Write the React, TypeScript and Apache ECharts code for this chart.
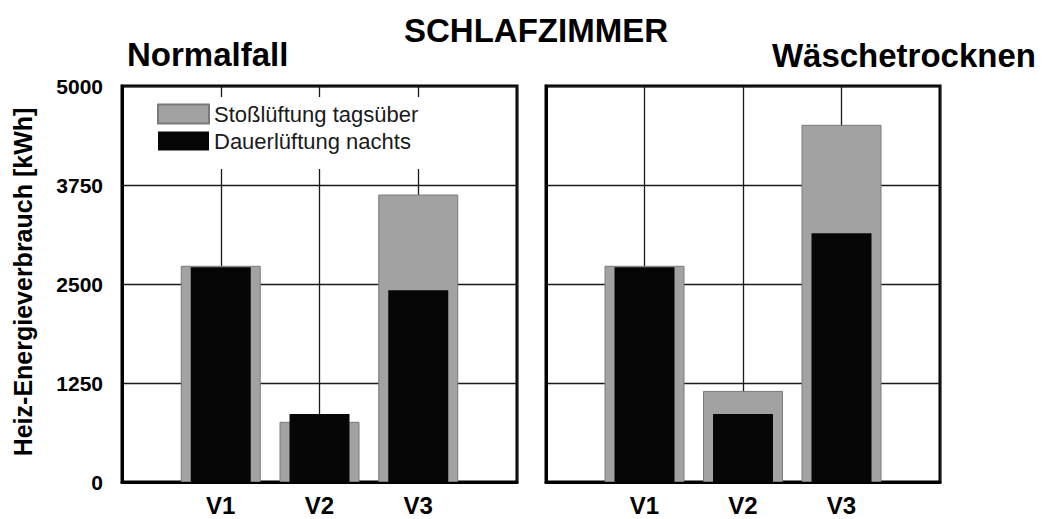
import React, { useEffect, useRef } from "react";
import * as echarts from "echarts";

const categories = ["V1", "V2", "V3"];
const seriesNames = ["Stoßlüftung tagsüber", "Dauerlüftung nachts"];
const normalStoss = [2730, 760, 3630];
const normalDauer = [2710, 860, 2420];
const waescheStoss = [2730, 1150, 4510];
const waescheDauer = [2710, 860, 3140];
const yTicks = [0, 1250, 2500, 3750, 5000];
const mainTitle = "SCHLAFZIMMER";
const panelTitles = ["Normalfall", "Wäschetrocknen"];
const yName = "Heiz-Energieverbrauch [kWh]";

const FONT = "'Liberation Sans', Arial, Helvetica, sans-serif";
const GRAY = "#a2a2a2";
const GRAY_BORDER = "#7a7a7a";
const BLACK = "#060606";
const LINE = "#1a1a1a";

const pad = (arr: number[]) => [null, ...arr, null];
const xCats = ["", ...categories, ""];

export default function App() {
  const ref = useRef<HTMLDivElement>(null);
  useEffect(() => {
    if (!ref.current) return;
    const chart = echarts.init(ref.current, null, { renderer: "svg" });
    const grids = [
      { left: 122, top: 86, width: 395, height: 396 },
      { left: 546, top: 86, width: 394, height: 396 },
    ];
    const mkX = (gridIndex: number, show: boolean) => ({
      type: "category",
      gridIndex,
      data: xCats,
      boundaryGap: false,
      show,
      axisLine: { show: true, lineStyle: { color: "#000", width: 3 } },
      axisTick: { show: false },
      axisLabel: {
        show,
        interval: 0,
        margin: 11,
        color: "#000",
        fontFamily: FONT,
        fontWeight: "bold",
        fontSize: 24,
      },
      splitLine: { show, interval: 0, lineStyle: { color: LINE, width: 1.3 } },
    });
    const mkY = (gridIndex: number, showLabels: boolean) => ({
      type: "value",
      gridIndex,
      min: yTicks[0],
      max: yTicks[yTicks.length - 1],
      interval: yTicks[1] - yTicks[0],
      axisLine: { show: true, lineStyle: { color: "#000", width: 3 } },
      axisTick: { show: false },
      axisLabel: {
        show: showLabels,
        margin: 19,
        color: "#000",
        fontFamily: FONT,
        fontWeight: "bold",
        fontSize: 21,
        formatter: (v: number) => String(v),
      },
      splitLine: { show: true, lineStyle: { color: LINE, width: 1.3 } },
    });
    const gray = { color: GRAY, borderColor: GRAY_BORDER, borderWidth: 1 };
    const black = { color: BLACK };
    const titleStyle = (text: string, align: string, size: number) => ({
      text,
      fontFamily: FONT,
      fontWeight: "bold",
      fontSize: size,
      fill: "#000",
      textAlign: align,
      textVerticalAlign: "middle",
    });
    chart.setOption({
      animation: false,
      backgroundColor: "#fff",
      grid: grids.map((g) => ({
        ...g,
        show: true,
        borderColor: "#000",
        borderWidth: 3,
        backgroundColor: "transparent",
      })),
      xAxis: [mkX(0, true), mkX(0, false), mkX(1, true), mkX(1, false)],
      yAxis: [mkY(0, true), mkY(1, false)],
      legend: {
        data: seriesNames,
        left: 150,
        top: 97,
        orient: "vertical",
        padding: [6, 6, 17, 7],
        backgroundColor: "#fff",
        itemWidth: 51,
        itemHeight: 19,
        itemGap: 5,
        icon: "rect",
        selectedMode: false,
        textStyle: { fontFamily: FONT, fontSize: 22, color: "#1a1a1a" },
      },
      series: [
        {
          type: "bar",
          name: seriesNames[0],
          xAxisIndex: 0,
          yAxisIndex: 0,
          data: pad(normalStoss),
          barWidth: 80,
          itemStyle: gray,
        },
        {
          type: "bar",
          name: seriesNames[1],
          xAxisIndex: 1,
          yAxisIndex: 0,
          data: pad(normalDauer),
          barWidth: 60,
          itemStyle: black,
        },
        {
          type: "bar",
          name: seriesNames[0],
          xAxisIndex: 2,
          yAxisIndex: 1,
          data: pad(waescheStoss),
          barWidth: 80,
          itemStyle: gray,
        },
        {
          type: "bar",
          name: seriesNames[1],
          xAxisIndex: 3,
          yAxisIndex: 1,
          data: pad(waescheDauer),
          barWidth: 60,
          itemStyle: black,
        },
      ],
      graphic: [
        { type: "text", x: 536, y: 30, style: titleStyle(mainTitle, "center", 33) },
        { type: "text", x: 127, y: 54, style: titleStyle(panelTitles[0], "left", 33) },
        { type: "text", x: 1036, y: 55, style: titleStyle(panelTitles[1], "right", 33) },
        {
          type: "text",
          x: 23,
          y: 282,
          rotation: Math.PI / 2,
          style: {
            text: yName,
            fontFamily: FONT,
            fontWeight: "bold",
            fontSize: 25,
            fill: "#000",
            textAlign: "center",
            textVerticalAlign: "middle",
          },
        },
      ],
    });
    return () => chart.dispose();
  }, []);
  return (
    <div
      ref={ref}
      style={{ position: "absolute", left: 0, top: 0, width: 1046, height: 519 }}
    />
  );
}
